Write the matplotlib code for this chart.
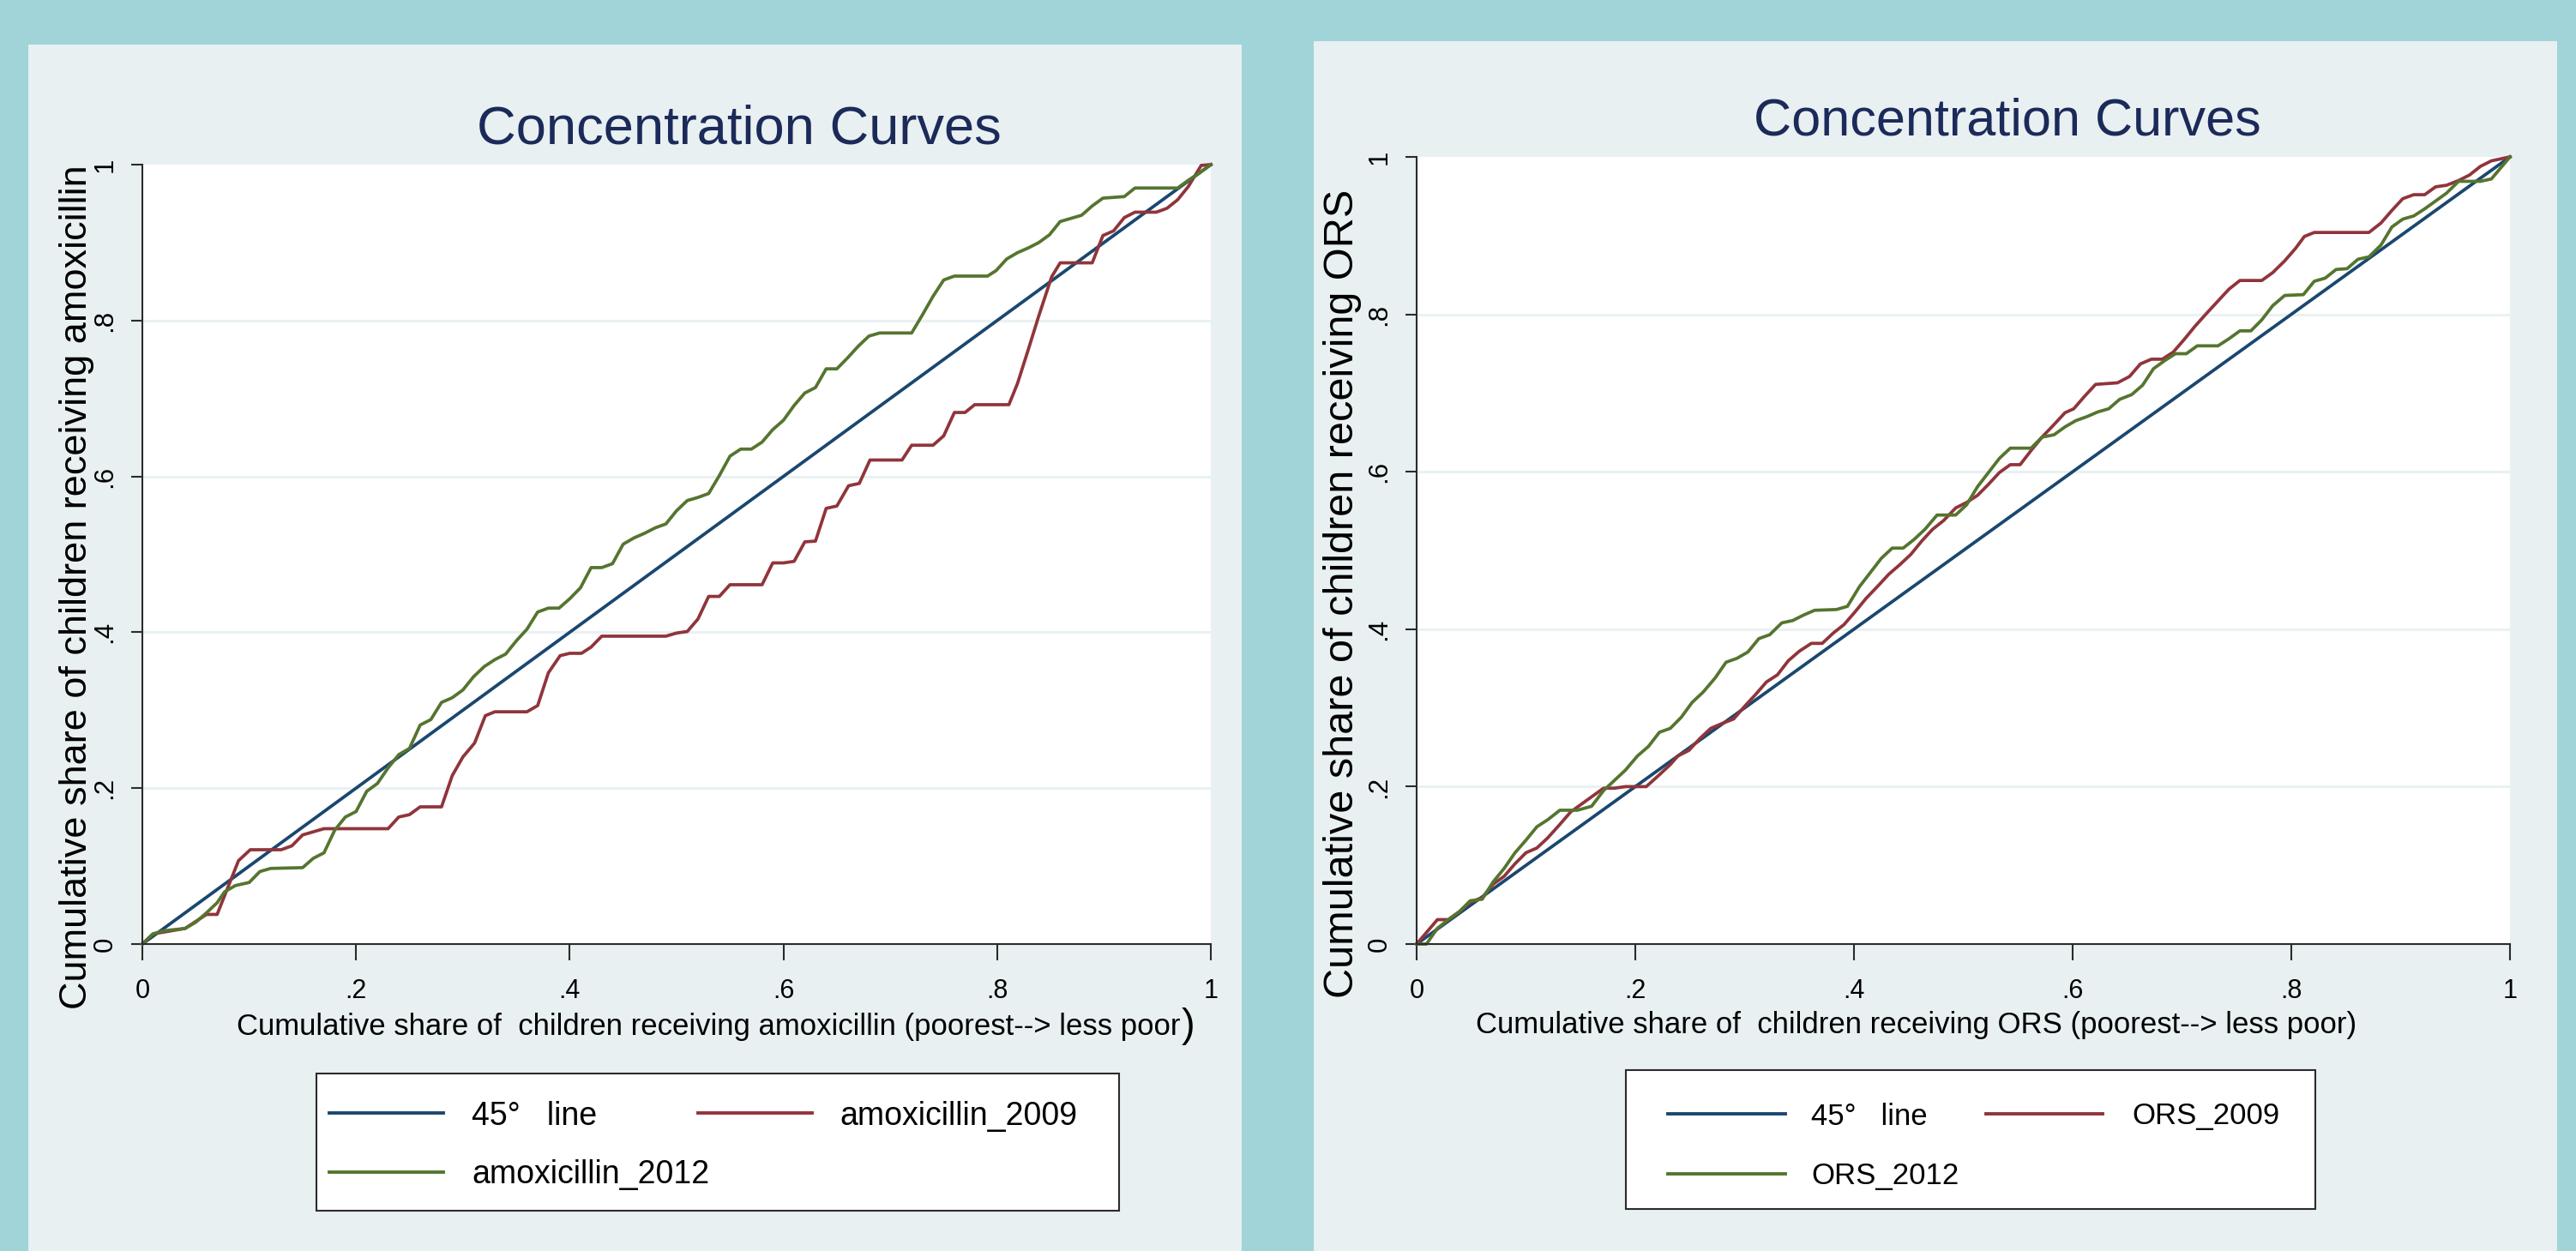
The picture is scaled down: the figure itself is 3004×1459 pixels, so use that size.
import matplotlib
matplotlib.use('Agg')
from matplotlib import pyplot as plt
from matplotlib.patches import Rectangle
from matplotlib.lines import Line2D

plt.rcParams['font.family'] = ['Liberation Sans', 'DejaVu Sans']

# 45 degree reference line
line45_x = [0, 1]
line45_y = [0, 1]

# amoxicillin concentration curves
amox09_x = [0, 0.010, 0.040, 0.060, 0.070, 0.090, 0.101, 0.130, 0.140, 0.150, 0.170, 0.230,
            0.240, 0.250, 0.260, 0.280, 0.290, 0.300, 0.311, 0.321, 0.330, 0.360, 0.370, 0.380,
            0.391, 0.400, 0.411, 0.420, 0.430, 0.490, 0.500, 0.510, 0.520, 0.530, 0.540, 0.550,
            0.580, 0.590, 0.600, 0.610, 0.620, 0.630, 0.640, 0.650, 0.661, 0.671, 0.681, 0.711,
            0.720, 0.740, 0.750, 0.760, 0.770, 0.779, 0.811, 0.819, 0.829, 0.839, 0.851, 0.859,
            0.889, 0.899, 0.909, 0.919, 0.929, 0.949, 0.959, 0.969, 0.979, 0.991, 1.0]
amox09_y = [0, 0.013, 0.020, 0.038, 0.038, 0.107, 0.121, 0.121, 0.126, 0.140, 0.148, 0.148,
            0.163, 0.166, 0.176, 0.176, 0.216, 0.240, 0.258, 0.293, 0.298, 0.298, 0.306, 0.348,
            0.370, 0.373, 0.373, 0.381, 0.395, 0.395, 0.399, 0.401, 0.417, 0.446, 0.446, 0.461,
            0.461, 0.489, 0.489, 0.491, 0.516, 0.517, 0.559, 0.562, 0.588, 0.591, 0.621, 0.621,
            0.640, 0.640, 0.652, 0.682, 0.682, 0.692, 0.692, 0.719, 0.762, 0.806, 0.856, 0.874,
            0.874, 0.909, 0.915, 0.932, 0.939, 0.939, 0.944, 0.955, 0.972, 0.999, 1.0]

amox12_x = [0, 0.010, 0.020, 0.040, 0.050, 0.060, 0.070, 0.077, 0.087, 0.100, 0.110, 0.120,
            0.150, 0.160, 0.170, 0.180, 0.190, 0.200, 0.210, 0.220, 0.230, 0.240, 0.250, 0.260,
            0.270, 0.280, 0.290, 0.300, 0.310, 0.320, 0.330, 0.340, 0.350, 0.360, 0.370, 0.380,
            0.390, 0.400, 0.410, 0.420, 0.430, 0.440, 0.450, 0.460, 0.470, 0.480, 0.490, 0.500,
            0.510, 0.520, 0.530, 0.540, 0.550, 0.560, 0.570, 0.580, 0.590, 0.600, 0.610, 0.620,
            0.630, 0.640, 0.650, 0.660, 0.670, 0.680, 0.690, 0.720, 0.730, 0.740, 0.750, 0.760,
            0.791, 0.799, 0.809, 0.819, 0.829, 0.839, 0.849, 0.859, 0.869, 0.879, 0.889, 0.899,
            0.919, 0.929, 0.969, 0.979, 0.989, 1.0]
amox12_y = [0, 0.013, 0.017, 0.020, 0.028, 0.040, 0.053, 0.067, 0.075, 0.079, 0.093, 0.097,
            0.098, 0.110, 0.117, 0.146, 0.163, 0.170, 0.196, 0.206, 0.226, 0.243, 0.251, 0.281,
            0.288, 0.310, 0.316, 0.326, 0.343, 0.356, 0.365, 0.372, 0.389, 0.404, 0.426, 0.431,
            0.431, 0.443, 0.457, 0.483, 0.483, 0.488, 0.513, 0.521, 0.527, 0.534, 0.539, 0.556,
            0.569, 0.573, 0.578, 0.601, 0.626, 0.635, 0.635, 0.644, 0.660, 0.672, 0.691, 0.707,
            0.714, 0.738, 0.738, 0.752, 0.767, 0.780, 0.784, 0.784, 0.807, 0.831, 0.852, 0.857,
            0.857, 0.864, 0.879, 0.887, 0.893, 0.900, 0.910, 0.927, 0.931, 0.935, 0.947, 0.957,
            0.959, 0.970, 0.970, 0.980, 0.989, 1.0]

# ORS concentration curves
ors09_x = [0, 0.019, 0.029, 0.039, 0.049, 0.060, 0.070, 0.080, 0.090, 0.100, 0.110, 0.120,
           0.131, 0.141, 0.151, 0.161, 0.171, 0.181, 0.191, 0.210, 0.222, 0.232, 0.239, 0.249,
           0.259, 0.269, 0.279, 0.290, 0.300, 0.310, 0.320, 0.330, 0.340, 0.350, 0.361, 0.371,
           0.381, 0.391, 0.401, 0.411, 0.422, 0.432, 0.442, 0.452, 0.462, 0.472, 0.482, 0.493,
           0.503, 0.513, 0.523, 0.533, 0.543, 0.552, 0.562, 0.572, 0.583, 0.593, 0.601, 0.611,
           0.621, 0.641, 0.652, 0.662, 0.672, 0.682, 0.692, 0.702, 0.712, 0.723, 0.733, 0.743,
           0.753, 0.773, 0.783, 0.794, 0.804, 0.812, 0.821, 0.871, 0.882, 0.892, 0.902, 0.912,
           0.922, 0.932, 0.942, 0.953, 0.963, 0.973, 0.983, 1.0]
ors09_y = [0, 0.031, 0.031, 0.041, 0.053, 0.059, 0.076, 0.086, 0.102, 0.116, 0.122, 0.135,
           0.152, 0.168, 0.178, 0.188, 0.198, 0.198, 0.200, 0.200, 0.215, 0.228, 0.239, 0.246,
           0.261, 0.274, 0.280, 0.286, 0.302, 0.317, 0.333, 0.342, 0.360, 0.372, 0.382, 0.382,
           0.395, 0.406, 0.422, 0.439, 0.455, 0.470, 0.482, 0.495, 0.512, 0.527, 0.538, 0.554,
           0.561, 0.570, 0.584, 0.599, 0.609, 0.609, 0.627, 0.644, 0.660, 0.675, 0.680, 0.696,
           0.711, 0.713, 0.721, 0.737, 0.743, 0.743, 0.752, 0.768, 0.785, 0.802, 0.817, 0.832,
           0.843, 0.843, 0.853, 0.868, 0.884, 0.899, 0.904, 0.904, 0.916, 0.932, 0.947, 0.952,
           0.952, 0.962, 0.964, 0.970, 0.977, 0.988, 0.995, 1.0]

ors12_x = [0, 0.009, 0.019, 0.029, 0.039, 0.049, 0.060, 0.070, 0.080, 0.090, 0.100, 0.110,
           0.120, 0.131, 0.147, 0.160, 0.171, 0.181, 0.191, 0.202, 0.212, 0.222, 0.232, 0.242,
           0.252, 0.262, 0.273, 0.283, 0.293, 0.303, 0.313, 0.323, 0.334, 0.344, 0.354, 0.364,
           0.384, 0.394, 0.405, 0.415, 0.425, 0.435, 0.445, 0.455, 0.465, 0.476, 0.493, 0.503,
           0.513, 0.523, 0.533, 0.543, 0.562, 0.572, 0.583, 0.593, 0.603, 0.613, 0.623, 0.633,
           0.643, 0.654, 0.664, 0.674, 0.684, 0.694, 0.704, 0.714, 0.733, 0.743, 0.753, 0.763,
           0.773, 0.783, 0.794, 0.811, 0.821, 0.831, 0.841, 0.851, 0.861, 0.871, 0.882, 0.892,
           0.902, 0.912, 0.922, 0.932, 0.942, 0.953, 0.973, 0.983, 1.0]
ors12_y = [0, 0, 0.020, 0.031, 0.041, 0.055, 0.057, 0.079, 0.096, 0.116, 0.132, 0.149,
           0.158, 0.170, 0.170, 0.175, 0.195, 0.208, 0.221, 0.239, 0.251, 0.269, 0.274, 0.288,
           0.307, 0.320, 0.338, 0.358, 0.363, 0.371, 0.388, 0.393, 0.408, 0.411, 0.418, 0.424,
           0.425, 0.429, 0.454, 0.472, 0.490, 0.503, 0.503, 0.514, 0.527, 0.545, 0.545, 0.558,
           0.581, 0.599, 0.617, 0.630, 0.630, 0.644, 0.647, 0.657, 0.665, 0.670, 0.676, 0.680,
           0.692, 0.698, 0.710, 0.731, 0.741, 0.750, 0.750, 0.760, 0.760, 0.769, 0.779, 0.779,
           0.793, 0.811, 0.824, 0.825, 0.842, 0.846, 0.857, 0.858, 0.870, 0.873, 0.888, 0.911,
           0.921, 0.925, 0.934, 0.944, 0.954, 0.969, 0.969, 0.972, 1.0]

ticks = [0, 0.2, 0.4, 0.6, 0.8, 1]
tick_labels = ['0', '.2', '.4', '.6', '.8', '1']
grid_vals = [0.2, 0.4, 0.6, 0.8]

# colours (Stata s2color look)
blue = '#1a476f'
red = '#90353b'
green = '#55752f'
teal = '#a0d4d8'
panel = '#e8f0f2'
navy = '#1c2a5a'

W, H = 3004, 1459
fig = plt.figure(figsize=(W / 100, H / 100), dpi=100, facecolor=teal)


# pixel -> figure fraction helpers
def fx(x):
    return x / W


def fy(y):
    return 1 - y / H


# light panels behind each chart
for (x0, y0, x1) in [(33, 52, 1448), (1532, 48, 2982)]:
    fig.patches.append(Rectangle((fx(x0), 0), fx(x1) - fx(x0), fy(y0), transform=fig.transFigure,
                                 facecolor=panel, edgecolor='none', zorder=-5))


def make_axes(left, top, right, bottom):
    ax = fig.add_axes([fx(left), fy(bottom), fx(right) - fx(left), fy(top) - fy(bottom)])
    ax.set_xlim(0, 1)
    ax.set_ylim(0, 1)
    ax.set_facecolor('white')
    for s in ['top', 'right']:
        ax.spines[s].set_visible(False)
    for s in ['left', 'bottom']:
        ax.spines[s].set_color('#2b2b2b')
        ax.spines[s].set_linewidth(1.5)
    ax.set_xticks(ticks)
    ax.set_xticklabels(tick_labels)
    ax.set_yticks(ticks)
    ax.set_yticklabels(tick_labels)
    ax.tick_params(axis='x', length=13.5, width=1.5, pad=15, labelsize=22, color='#2b2b2b')
    ax.tick_params(axis='y', length=9.5, width=1.5, pad=11, labelsize=22.5, color='#2b2b2b')
    for lab in ax.get_yticklabels():
        lab.set_rotation(90)
        lab.set_va('center')
    for v in grid_vals:
        ax.axhline(v, color='#eaf1f3', lw=2.2, zorder=0)
    return ax


ax1 = make_axes(166, 192, 1412, 1101)
ax2 = make_axes(1652, 183, 2927, 1101)

lw = 2.7
ax1.plot(line45_x, line45_y, color=blue, lw=lw, clip_on=False)
ax1.plot(amox09_x, amox09_y, color=red, lw=lw, clip_on=False)
ax1.plot(amox12_x, amox12_y, color=green, lw=lw, clip_on=False)

ax2.plot(line45_x, line45_y, color=blue, lw=lw, clip_on=False)
ax2.plot(ors09_x, ors09_y, color=red, lw=lw, clip_on=False)
ax2.plot(ors12_x, ors12_y, color=green, lw=lw, clip_on=False)

# titles
fig.text(fx(862), fy(168), 'Concentration Curves', ha='center', va='baseline', fontsize=45.5, color=navy)
fig.text(fx(2341), fy(158), 'Concentration Curves', ha='center', va='baseline', fontsize=44, color=navy)

# axis titles
fig.text(fx(90), fy(685), 'Cumulative share of children receiving amoxicillin', rotation=90,
         ha='center', va='center', fontsize=32.5)
fig.text(fx(1566), fy(692), 'Cumulative share of children receiving ORS', rotation=90,
         ha='center', va='center', fontsize=35)
fig.text(fx(1377), fy(1207), 'Cumulative share of  children receiving amoxicillin (poorest--> less poor',
         ha='right', va='baseline', fontsize=25)
fig.text(fx(1378), fy(1209), ')', ha='left', va='baseline', fontsize=34)
fig.text(fx(2235), fy(1205), 'Cumulative share of  children receiving ORS (poorest--> less poor)',
         ha='center', va='baseline', fontsize=25)


# legends drawn as boxes under each chart
def draw_legend(box, rows, handles, texts, labels, colors, size):
    x0, y0, x1, y1 = box
    fig.patches.append(Rectangle((fx(x0), fy(y1)), fx(x1) - fx(x0), fy(y0) - fy(y1),
                                 transform=fig.transFigure, facecolor='white',
                                 edgecolor='#2b2b2b', lw=1.5, zorder=2))
    cells = [(0, 0), (0, 1), (1, 0)]
    for (r, c), lab, col in zip(cells, labels, colors):
        hx0, hx1 = handles[c]
        fig.lines.append(Line2D([fx(hx0), fx(hx1)], [fy(rows[r]), fy(rows[r])],
                                transform=fig.transFigure, color=col, lw=2.8, zorder=3))
        fig.text(fx(texts[c]), fy(rows[r] + 0.36 * size * 100 / 72), lab, ha='left',
                 va='baseline', fontsize=size, zorder=4)


draw_legend((369, 1252, 1305, 1412), (1298, 1367), [(384, 517), (814, 947)], (550, 979),
            ['45°   line', 'amoxicillin_2009', 'amoxicillin_2012'], [blue, red, green], 27)
draw_legend((1896, 1248, 2700, 1410), (1299, 1369), [(1945, 2082), (2316, 2452)], (2112, 2486),
            ['45°   line', 'ORS_2009', 'ORS_2012'], [blue, red, green], 25)

plt.savefig('out.png', dpi=100, facecolor=teal)
